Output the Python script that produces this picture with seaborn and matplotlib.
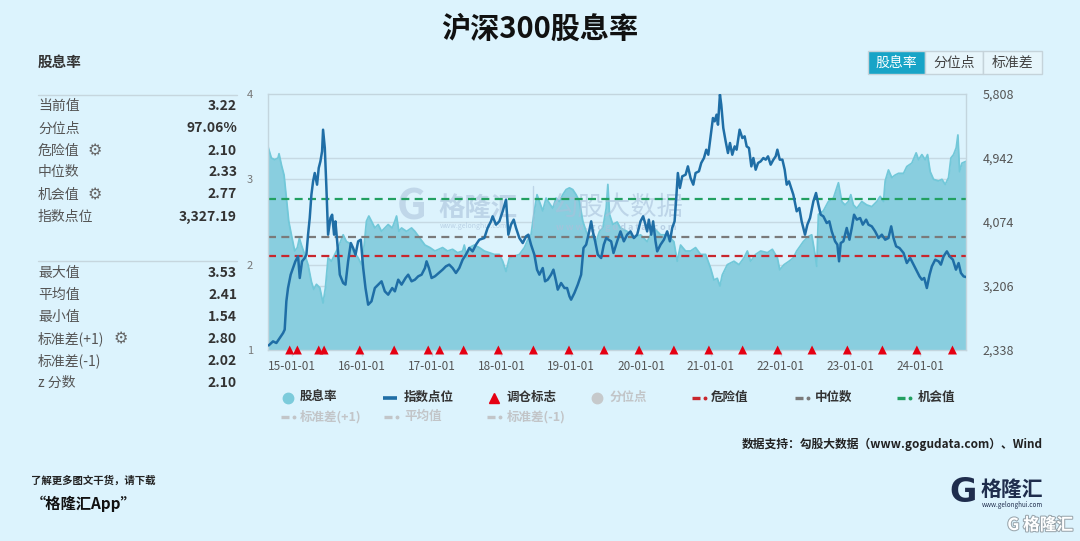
import numpy as np
import pandas as pd
import seaborn as sns
import matplotlib.pyplot as plt
import matplotlib.patheffects as pe
from matplotlib.lines import Line2D
from matplotlib.patches import Rectangle

sns.set_theme(style="white")
plt.rcParams['font.family'] = ['Noto Sans CJK SC', 'DejaVu Sans']
plt.rcParams['axes.unicode_minus'] = False

# ---------------- data ----------------
# dividend yield (left axis), x in decimal years
yield_year = [
    2014.656, 2014.703, 2014.751, 2014.799, 2014.813, 2014.847, 2014.885, 2014.918, 2014.952, 2014.990,
    2015.038, 2015.076, 2015.105, 2015.134, 2015.181, 2015.229, 2015.277, 2015.311, 2015.349, 2015.397,
    2015.444, 2015.478, 2015.516, 2015.564, 2015.612, 2015.660, 2015.732, 2015.779, 2015.827, 2015.875,
    2015.947, 2015.995, 2016.033, 2016.066, 2016.100, 2016.138, 2016.186, 2016.234, 2016.282, 2016.329,
    2016.377, 2016.435, 2016.473, 2016.497, 2016.531, 2016.569, 2016.640, 2016.712, 2016.760, 2016.832,
    2016.904, 2016.976, 2017.047,
    2017.157, 2017.228, 2017.300, 2017.372, 2017.444, 2017.468, 2017.506, 2017.539, 2017.611, 2017.683,
    2017.755, 2017.826, 2017.898, 2017.970, 2018.018, 2018.066, 2018.114, 2018.185, 2018.257, 2018.329,
    2018.377, 2018.424, 2018.472, 2018.510, 2018.544, 2018.592, 2018.640, 2018.687, 2018.735, 2018.783,
    2018.831, 2018.879, 2018.927, 2018.975, 2019.022, 2019.070, 2019.118, 2019.166, 2019.214, 2019.262,
    2019.309, 2019.357, 2019.405, 2019.453, 2019.501, 2019.525, 2019.549, 2019.596,
    2019.658, 2019.706, 2019.801, 2019.897, 2019.993, 2020.088, 2020.184, 2020.280, 2020.375, 2020.471,
    2020.519, 2020.567, 2020.639, 2020.710, 2020.782, 2020.854, 2020.926, 2020.997, 2021.045, 2021.093,
    2021.131, 2021.165, 2021.237, 2021.332, 2021.404, 2021.476, 2021.524, 2021.571, 2021.643, 2021.715,
    2021.811, 2021.882, 2021.954, 2021.988, 2022.050, 2022.121,
    2022.183, 2022.231, 2022.326, 2022.398, 2022.446, 2022.494, 2022.518, 2022.542, 2022.613, 2022.685,
    2022.757, 2022.805, 2022.829, 2022.877, 2022.924, 2022.972, 2023.006, 2023.044, 2023.092, 2023.164,
    2023.235, 2023.307, 2023.379, 2023.427, 2023.475, 2023.499, 2023.546, 2023.594, 2023.642, 2023.690,
    2023.762, 2023.809, 2023.881, 2023.943, 2023.977, 2024.025, 2024.072, 2024.106, 2024.144, 2024.192,
    2024.264, 2024.312, 2024.359, 2024.407, 2024.441, 2024.479, 2024.517, 2024.541, 2024.565, 2024.599,
    2024.656,
]
yield_val = [
    3.38, 3.25, 3.23, 3.25, 3.30, 3.17, 3.05, 2.78, 2.51, 2.35,
    2.16, 2.20, 2.31, 2.23, 2.12, 2.00, 1.80, 1.71, 1.77, 1.73,
    1.55, 1.73, 2.08, 2.04, 2.12, 2.20, 2.35, 2.27, 2.25, 2.16,
    2.08, 2.00, 2.23, 2.51, 2.57, 2.51, 2.43, 2.47, 2.39, 2.43,
    2.47, 2.43, 2.51, 2.57, 2.39, 2.43, 2.39, 2.43, 2.39, 2.31,
    2.23, 2.20, 2.16,
    2.20, 2.16, 2.18, 2.14, 2.16, 2.23, 2.08, 2.20, 2.23, 2.20,
    2.16, 2.14, 2.12, 2.12, 2.04, 1.92, 2.08, 2.10, 2.12, 2.20,
    2.29, 2.35, 2.63, 2.82, 2.74, 2.63, 2.78, 2.72, 2.66, 2.78,
    2.74, 2.82, 2.88, 2.90, 2.88, 2.82, 2.74, 2.51, 2.39, 2.31,
    2.35, 2.27, 2.39, 2.43, 2.66, 2.94, 2.59, 2.47,
    2.50, 2.43, 2.39, 2.31, 2.35, 2.27, 2.43, 2.35, 2.35, 2.27,
    2.04, 2.23, 2.16, 2.16, 2.20, 2.12, 2.12, 1.96, 1.82, 1.84,
    1.75, 1.88, 2.00, 2.04, 2.00, 2.08, 2.16, 2.04, 2.12, 2.16,
    2.14, 2.18, 2.08, 1.94, 2.00, 2.04,
    2.08, 2.16, 2.27, 2.33, 2.35, 2.12, 1.98, 2.59, 2.63, 2.74,
    2.78, 2.90, 2.96, 2.74, 2.70, 2.74, 2.82, 2.70, 2.66, 2.74,
    2.70, 2.68, 2.74, 2.80, 2.74, 2.98, 3.11, 3.02, 3.05, 3.07,
    3.07, 3.15, 3.19, 3.31, 3.23, 3.29, 3.23, 3.29, 3.09, 3.00,
    2.98, 3.00, 2.94, 3.02, 3.25, 3.29, 3.37, 3.52, 3.09, 3.19,
    3.21,
]

# CSI 300 index level (right axis)
index_year = [
    2014.665, 2014.727, 2014.775, 2014.823, 2014.871, 2014.894, 2014.918, 2014.942, 2014.980, 2015.014,
    2015.047, 2015.086, 2015.110, 2015.143, 2015.181, 2015.205, 2015.229, 2015.253, 2015.277, 2015.301,
    2015.325, 2015.358, 2015.382, 2015.406, 2015.430, 2015.444, 2015.469, 2015.492, 2015.516, 2015.550,
    2015.574, 2015.602, 2015.621, 2015.650, 2015.684, 2015.732, 2015.765, 2015.803, 2015.842, 2015.875,
    2015.909, 2015.947, 2015.985, 2016.019, 2016.052, 2016.090, 2016.138, 2016.186, 2016.234, 2016.282,
    2016.329, 2016.377, 2016.435, 2016.473, 2016.521, 2016.569, 2016.626, 2016.664, 2016.712, 2016.760,
    2016.808, 2016.856, 2016.904, 2016.927, 2016.961, 2016.999, 2017.047,
    2017.157, 2017.204, 2017.252, 2017.300, 2017.348, 2017.396, 2017.444, 2017.491, 2017.539, 2017.587,
    2017.635, 2017.683, 2017.755, 2017.802, 2017.850, 2017.874, 2017.922, 2017.970, 2018.018, 2018.066,
    2018.099, 2018.137, 2018.176, 2018.209, 2018.257, 2018.305, 2018.353, 2018.386, 2018.424, 2018.472,
    2018.510, 2018.544, 2018.592, 2018.625, 2018.663, 2018.711, 2018.745, 2018.783, 2018.807, 2018.855,
    2018.903, 2018.941, 2018.975, 2018.998, 2019.046, 2019.094, 2019.142, 2019.176, 2019.214, 2019.247,
    2019.286, 2019.309, 2019.343, 2019.381, 2019.429, 2019.467, 2019.501, 2019.534, 2019.572, 2019.606,
    2019.658, 2019.706, 2019.754, 2019.801, 2019.849, 2019.897, 2019.945, 2019.993, 2020.031, 2020.064,
    2020.088, 2020.112, 2020.146, 2020.174, 2020.208, 2020.232, 2020.280, 2020.328, 2020.375, 2020.414,
    2020.447, 2020.481, 2020.505, 2020.528, 2020.557, 2020.591, 2020.639, 2020.672, 2020.710, 2020.749,
    2020.782, 2020.830, 2020.863, 2020.902, 2020.935, 2020.964, 2020.997, 2021.031, 2021.055, 2021.083,
    2021.103, 2021.131, 2021.150, 2021.179, 2021.213, 2021.246, 2021.275, 2021.308, 2021.342, 2021.370,
    2021.413, 2021.452, 2021.485, 2021.514, 2021.547, 2021.581, 2021.610, 2021.643, 2021.677, 2021.715,
    2021.753, 2021.787, 2021.820, 2021.858, 2021.897, 2021.930, 2021.954, 2021.988, 2022.026, 2022.059,
    2022.088, 2022.121,
    2022.183, 2022.231, 2022.269, 2022.302, 2022.350, 2022.384, 2022.422, 2022.470, 2022.508, 2022.542,
    2022.575, 2022.613, 2022.661, 2022.699, 2022.733, 2022.781, 2022.814, 2022.838, 2022.862, 2022.900,
    2022.948, 2022.987, 2023.020, 2023.053, 2023.092, 2023.140, 2023.178, 2023.226, 2023.259, 2023.307,
    2023.355, 2023.403, 2023.451, 2023.499, 2023.546, 2023.585, 2023.618, 2023.656, 2023.704, 2023.762,
    2023.809, 2023.857, 2023.905, 2023.953, 2023.991, 2024.025, 2024.058, 2024.096, 2024.135, 2024.168,
    2024.216, 2024.264, 2024.297, 2024.336, 2024.383, 2024.422, 2024.469, 2024.513, 2024.551, 2024.584,
    2024.622, 2024.656,
]
index_val = [
    2400, 2455, 2433, 2501, 2568, 2614, 2998, 3178, 3359, 3449,
    3540, 3608, 3314, 3540, 3585, 3630, 3901, 4127, 4443, 4624,
    4737, 4579, 4805, 4895, 5031, 5324, 5076, 4534, 3901, 4127,
    4172, 3901, 4082, 3766, 3359, 3246, 3224, 3540, 3788, 3720,
    3630, 3811, 3833, 3449, 3178, 2952, 2998, 3178, 3224, 3269,
    3133, 3088, 3178, 3133, 3291, 3224, 3314, 3359, 3269, 3291,
    3337, 3359, 3449, 3540, 3449, 3314, 3337,
    3427, 3472, 3495, 3449, 3382, 3449, 3562, 3630, 3720, 3675,
    3766, 3833, 3856, 3992, 4082, 4150, 4037, 4082, 4218, 4376,
    3901, 4037, 4105, 3992, 3856, 3788, 3879, 3901, 3766, 3630,
    3427, 3359, 3449, 3269, 3291, 3359, 3427, 3269, 3156, 3246,
    3178, 3178, 3065, 3020, 3111, 3224, 3359, 3721, 3766, 3901,
    4082, 3946, 3811, 3630, 3585, 3766, 3856, 3833, 3811, 3653,
    3811, 3946, 3811, 3901, 3946, 3856, 3901, 4082, 4150, 4037,
    3946, 4105, 3901, 4082, 3811, 3675, 3766, 3833, 3946, 3811,
    3992, 4082, 4398, 4737, 4534, 4692, 4714, 4827, 4669, 4579,
    4737, 4760, 4873, 4940, 5053, 4985, 5234, 5483, 5437, 5528,
    5392, 5800, 5663, 5347, 5166, 5008, 5144, 4985, 5098, 5053,
    5324, 5211, 5234, 5098, 5076, 4827, 4940, 4782, 4873, 4895,
    4940, 4918, 4963, 4850, 4918, 4963, 5053, 4918, 4918, 4782,
    4579, 4624,
    4443, 4218, 4263, 4082, 3901, 4037, 4127, 4353, 4466, 4308,
    4172, 4150, 4059, 4082, 3946, 3811, 3766, 3540, 3788, 3811,
    3992, 3833, 3992, 4172, 4105, 4127, 4037, 4105, 4037, 4014,
    3946, 3856, 3901, 3833, 3856, 4014, 3856, 3743, 3720, 3653,
    3517, 3585, 3495, 3404, 3336, 3291, 3314, 3178, 3359, 3472,
    3562, 3540, 3495, 3608, 3675, 3608, 3562, 3427, 3517, 3382,
    3336, 3327,
]

# rebalance markers (调仓标志)
rebalance_year = [
    2014.966, 2015.076, 2015.382, 2015.459, 2015.970, 2016.463, 2016.951, 2017.116,
    2017.458, 2017.956, 2018.458, 2018.968, 2019.471, 2019.973, 2020.471, 2020.973,
    2021.456, 2021.958, 2022.451, 2022.957, 2023.459, 2023.953, 2024.463,
]

x_ticks = [2015, 2016, 2017, 2018, 2019, 2020, 2021, 2022, 2023, 2024]
x_labels = ['15-01-01', '16-01-01', '17-01-01', '18-01-01', '19-01-01',
            '20-01-01', '21-01-01', '22-01-01', '23-01-01', '24-01-01']
left_ticks = [1, 2, 3, 4]
right_ticks = [2338, 3206, 4074, 4942, 5808]

danger_val = 2.10
median_val = 2.33
chance_val = 2.77

top_labels = ['当前值', '分位点', '危险值', '中位数', '机会值', '指数点位']
top_values = ['3.22', '97.06%', '2.10', '2.33', '2.77', '3,327.19']
bottom_labels = ['最大值', '平均值', '最小值', '标准差(+1)', '标准差(-1)', 'z 分数']
bottom_values = ['3.53', '2.41', '1.54', '2.80', '2.02', '2.10']

# ---------------- style ----------------
BG = '#dcf3fd'
AREA = '#89cedf'
AREA_EDGE = '#72c8d9'
LINE = '#1f6ea6'
GRID = '#c6d9e3'
RED = '#c8262d'
GRAY = '#7a7a7a'
GREEN = '#22a061'
W, H = 1080, 541


def fx(x):
    return x / W


def fy(y):
    return 1 - y / H


fig = plt.figure(figsize=(10.8, 5.41), dpi=100, facecolor=BG)

ax = fig.add_axes([fx(268), fy(350), (966 - 268) / W, (350 - 94) / H])
ax.set_facecolor(BG)

df_y = pd.DataFrame({'year': yield_year, 'dy': yield_val})
df_i = pd.DataFrame({'year': index_year, 'idx': index_val})

# grid lines (left ticks and right ticks) underneath the area
lo, hi = right_ticks[0], right_ticks[-1]
for v in left_ticks[1:-1]:
    ax.axhline(v, color=GRID, lw=1, zorder=0.5)
for v in right_ticks[1:-1]:
    ax.axhline(1 + (v - lo) / (hi - lo) * 3, color=GRID, lw=1, zorder=0.5)

ax.fill_between(df_y['year'], 1, df_y['dy'], color=AREA, lw=0, zorder=1)
sns.lineplot(data=df_y, x='year', y='dy', ax=ax, color=AREA_EDGE, lw=1.3, zorder=1.2)

ax.axhline(danger_val, color=RED, lw=1.6, dashes=(3.6, 2.4), zorder=2)
ax.axhline(median_val, color=GRAY, lw=1.6, dashes=(3.6, 2.4), zorder=2)
ax.axhline(chance_val, color=GREEN, lw=1.6, dashes=(3.6, 2.4), zorder=2)

# watermark inside the plot
wm = '#a9c1da'
ax.text(fx(412), fy(207), 'G', transform=fig.transFigure, fontsize=30, weight='bold',
        color=wm, alpha=0.55, ha='center', va='center', zorder=1.5)
ax.text(fx(438), fy(208), '格隆汇', transform=fig.transFigure, fontsize=19, weight='bold',
        color=wm, alpha=0.6, ha='left', va='center', zorder=1.5)
ax.text(fx(440), fy(226), 'www.gelonghui.com', transform=fig.transFigure, fontsize=5,
        color=wm, alpha=0.7, ha='left', va='center', zorder=1.5)
ax.add_artist(Line2D([fx(533), fx(533)], [fy(186), fy(228)], transform=fig.transFigure,
                     color=wm, lw=1, alpha=0.6, zorder=1.5))
ax.text(fx(552), fy(207), '勾股大数据', transform=fig.transFigure, fontsize=19,
        color=wm, alpha=0.6, ha='left', va='center', zorder=1.5)
ax.text(fx(556), fy(227), 'w w w . g o g u d a t a . c o m', transform=fig.transFigure,
        fontsize=6.5, weight='bold', color=wm, alpha=0.7, ha='left', va='center', zorder=1.5)

ax.set_xlim(2014.655, 2024.657)
ax.set_ylim(1, 4)
ax.set_xticks(x_ticks, x_labels)
ax.set_yticks(left_ticks, [str(v) for v in left_ticks])
ax.set_xlabel('')
ax.set_ylabel('')
ax.tick_params(axis='x', bottom=True, length=4, width=1, color='#c3d5de',
               labelsize=8.5, labelcolor='#555555', pad=3)
ax.tick_params(axis='y', left=False, length=0, labelsize=8, labelcolor='#777777', pad=11)
for sp in ax.spines.values():
    sp.set_visible(True)
    sp.set_color('#c3d5de')
    sp.set_linewidth(1)

# index line on the right axis
ax2 = ax.twinx()
sns.lineplot(data=df_i, x='year', y='idx', ax=ax2, color=LINE, lw=1.8, zorder=3)
sns.scatterplot(x=rebalance_year, y=[right_ticks[0]] * len(rebalance_year), ax=ax2,
                marker='^', s=42, color='#e50012', edgecolor='none', clip_on=False, zorder=5)
ax2.set_ylim(lo, hi)
ax2.set_yticks(right_ticks, [f'{v:,}' for v in right_ticks])
ax2.set_xlabel('')
ax2.set_ylabel('')
ax2.tick_params(axis='y', right=False, length=0, labelsize=9, labelcolor='#555555', pad=12)
for sp in ax2.spines.values():
    sp.set_visible(False)
ax2.grid(False)
ax.set_xlim(2014.655, 2024.657)

# ---------------- title & buttons ----------------
fig.text(0.5, fy(29), '沪深300股息率', ha='center', va='center', fontsize=21,
         weight='bold', color='#111111')

btn_x = [868, 925, 983, 1042]
btn_text = ['股息率', '分位点', '标准差']
for i, t in enumerate(btn_text):
    sel = i == 0
    fig.add_artist(Rectangle((fx(btn_x[i]), fy(74)), (btn_x[i + 1] - btn_x[i]) / W, 23 / H,
                             transform=fig.transFigure, facecolor='#18a4c7' if sel else '#e6f5fb',
                             edgecolor='#c5d3da', lw=1))
    fig.text(fx((btn_x[i] + btn_x[i + 1]) / 2), fy(62.5), t, ha='center', va='center',
             fontsize=10, color='white' if sel else '#444444')

# ---------------- left statistics panel ----------------
fig.text(fx(38), fy(62), '股息率', fontsize=10.5, weight='bold', color='#333333', va='center')
for yy in (95, 261):
    fig.add_artist(Line2D([fx(38), fx(237)], [fy(yy), fy(yy)], transform=fig.transFigure,
                          color='#c6d6de', lw=1))

gear_rows = {'危险值': 95, '机会值': 95, '标准差(+1)': 121}
for labels, values, y0 in ((top_labels, top_values, 106.5), (bottom_labels, bottom_values, 272.7)):
    for k, (lab, val) in enumerate(zip(labels, values)):
        yy = y0 + k * 22
        fig.text(fx(38), fy(yy), lab, fontsize=10, color='#555555', va='center')
        fig.text(fx(237), fy(yy), val, fontsize=10, weight='bold', color='#333333',
                 va='center', ha='right')
        if lab in gear_rows:
            fig.text(fx(gear_rows[lab]), fy(yy), '⚙', fontsize=11.5, color='#666666',
                     va='center', ha='center', family=['DejaVu Sans'])

# ---------------- legend ----------------
r1, r2 = 397.5, 416.5
act, inact = '#333333', '#c2c5c8'


def mark(x, y, **kw):
    fig.add_artist(Line2D([fx(x)], [fy(y)], transform=fig.transFigure, ls='none', **kw))


def seg(x0, x1, y, color, lw=2.4):
    fig.add_artist(Line2D([fx(x0), fx(x1)], [fy(y), fy(y)], transform=fig.transFigure,
                          color=color, lw=lw, solid_capstyle='butt'))


def dashdot(x0, y, color):
    seg(x0, x0 + 8, y, color)
    mark(x0 + 13, y, marker='o', ms=1.8, color=color)


def ltext(x, y, s, color):
    fig.text(fx(x), fy(y), s, fontsize=9, weight='bold', color=color, va='center', ha='left')


mark(288, r1, marker='o', ms=7.5, color='#7ccbdb')
ltext(300, r1, '股息率', act)
seg(383, 397, r1, LINE, lw=2.6)
ltext(404, r1, '指数点位', act)
mark(494, r1, marker='^', ms=7, color='#e50012')
ltext(507, r1, '调仓标志', act)
mark(597, r1, marker='o', ms=7.5, color='#c6c9cb')
ltext(610, r1, '分位点', inact)
dashdot(692, r1, RED)
ltext(711, r1, '危险值', act)
dashdot(795, r1, GRAY)
ltext(815, r1, '中位数', act)
dashdot(897, r1, GREEN)
ltext(918, r1, '机会值', act)

dashdot(281, r2, inact)
ltext(300, r2, '标准差(+1)', inact)
dashdot(384, r2, inact)
ltext(404, r2, '平均值', inact)
dashdot(487, r2, inact)
ltext(507, r2, '标准差(-1)', inact)

fig.text(fx(1043), fy(444), '数据支持：勾股大数据（www.gogudata.com）、Wind', ha='right',
         va='center', fontsize=8.5, weight='bold', color='#222222')

# ---------------- footer ----------------
fig.text(fx(31), fy(481), '了解更多图文干货，请下载', fontsize=7.5, weight='bold',
         style='italic', color='#222222', va='center')
fig.text(fx(31), fy(504), '“格隆汇App”', fontsize=11, weight='bold', style='italic',
         color='#111111', va='center')

fig.text(fx(963), fy(492), 'G', fontsize=24, weight='bold', color='#1f2d4d',
         ha='center', va='center', family=['DejaVu Sans'])
fig.text(fx(981), fy(489), '格隆汇', fontsize=15, weight='bold', color='#1f2d4d',
         ha='left', va='center')
fig.text(fx(982), fy(505), 'www.gelonghui.com', fontsize=4.5, color='#1f2d4d',
         ha='left', va='center')
fig.text(fx(1073), fy(525), 'G 格隆汇', fontsize=12, weight='bold', color='white',
         ha='right', va='center',
         path_effects=[pe.withStroke(linewidth=1.5, foreground='#9aa6ad')])

fig.savefig('out.png', dpi=100, facecolor=BG)
